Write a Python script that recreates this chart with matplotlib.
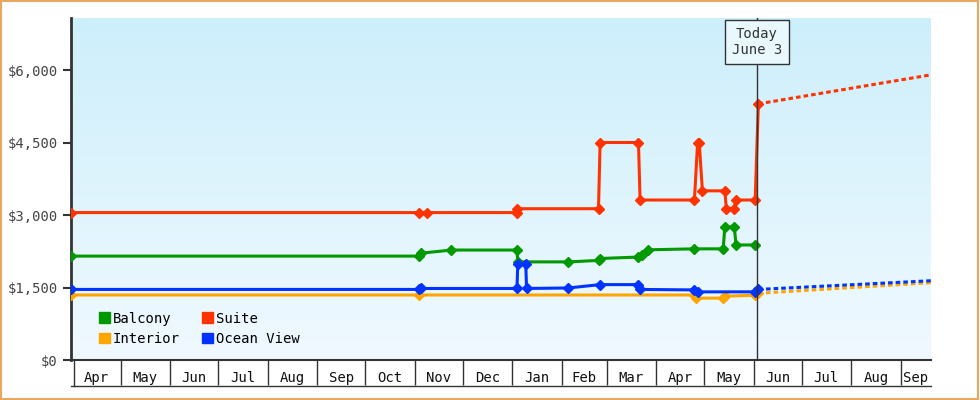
import numpy as np
import matplotlib.pyplot as plt
from matplotlib.patches import Patch
from matplotlib.colors import LinearSegmentedColormap

plt.rcParams['font.family'] = ['DejaVu Sans Mono']

# days since Apr 1 of first year
suite_x = [-1, 217, 222, 278, 278, 329, 330, 354, 355, 389, 391, 392, 394, 408, 409, 414, 415, 427, 429]
suite_y = [3050, 3050, 3050, 3050, 3130, 3130, 4500, 4500, 3310, 3310, 4500, 4500, 3500, 3500, 3130, 3130, 3310, 3310, 5300]
balcony_x = [-1, 217, 218, 237, 278, 278.5, 310, 329, 330, 354, 356, 360, 389, 407, 408, 414, 415, 427]
balcony_y = [2150, 2150, 2210, 2275, 2275, 2030, 2030, 2060, 2100, 2130, 2180, 2280, 2300, 2300, 2750, 2750, 2380, 2380]
ocean_x = [-1, 217, 218, 278, 278.5, 283.5, 284, 310, 330, 354, 355, 389, 391, 427, 429]
ocean_y = [1460, 1460, 1480, 1480, 1980, 1980, 1480, 1490, 1560, 1560, 1460, 1450, 1410, 1410, 1460]
interior_x = [-1, 217, 389, 390, 407, 408, 427, 429]
interior_y = [1345, 1345, 1345, 1280, 1280, 1320, 1340, 1380]
# forecasts from today to end of axis
fc_x = [429, 537]
suite_fc = [5300, 5900]
ocean_fc = [1460, 1640]
interior_fc = [1380, 1600]

months = ['Apr', 'May', 'Jun', 'Jul', 'Aug', 'Sep', 'Oct', 'Nov', 'Dec', 'Jan',
          'Feb', 'Mar', 'Apr', 'May', 'Jun', 'Jul', 'Aug', 'Sep']
month_starts = [0, 30, 61, 91, 122, 153, 183, 214, 244, 275, 306, 334, 365, 395, 426, 456, 487, 518]
today_x = 428
xmin, xmax = -1, 537

fig = plt.figure(figsize=(9.8, 4), dpi=100)
ax = fig.add_axes([71/980, 40/400, 860/980, 342/400])
ax.set_xlim(xmin, xmax)
ax.set_ylim(0, 7076)

cmap = LinearSegmentedColormap.from_list('bg', ['#f0f9ff', '#cdeffb'])
ax.imshow(np.linspace(0, 1, 100).reshape(-1, 1), cmap=cmap, origin='lower',
          extent=[xmin, xmax, 0, 7076], aspect='auto', zorder=0)

series = [
    (balcony_x, balcony_y, '#009900', None),
    (interior_x, interior_y, '#ffa500', interior_fc),
    (ocean_x, ocean_y, '#0033ff', ocean_fc),
    (suite_x, suite_y, '#ff3300', suite_fc),
]
for xs, ys, c, fc in series:
    ax.plot(xs, ys, color=c, lw=2.2, marker='D', ms=5, zorder=3)
    if fc:
        ax.plot(fc_x, fc, color=c, lw=2.2, ls=(0, (1.5, 1)), zorder=3)

ax.axvline(today_x, color='#333333', lw=1, zorder=4)
ax.text(today_x, 6580, 'Today\nJune 3', ha='center', va='center', fontsize=10,
        color='#333333', zorder=5,
        bbox=dict(boxstyle='square,pad=0.5', fc='#e8f8fd', ec='#333333', lw=1))

ax.set_yticks([0, 1500, 3000, 4500, 6000])
ax.set_yticklabels(['$0', '$1,500', '$3,000', '$4,500', '$6,000'], color='#444444', fontsize=10)
ax.tick_params(axis='y', length=6, width=1.5, color='#333333')

ax.set_xticks(month_starts[1:])
ax.set_xticklabels([])
ax.set_xticks([(a + b) / 2 for a, b in zip(month_starts, month_starts[1:] + [537])], minor=True)
ax.set_xticklabels(months, minor=True, fontsize=10, color='#111111')
ax.tick_params(axis='x', which='major', length=18, width=1, color='#333333')
ax.tick_params(axis='x', which='minor', length=0, pad=8)

for s in ['top', 'right']:
    ax.spines[s].set_visible(False)
ax.spines['left'].set_linewidth(2)
ax.spines['left'].set_color('#333333')
ax.spines['bottom'].set_color('#333333')
ax.spines['bottom'].set_linewidth(1.5)
fig.add_artist(plt.Line2D([71/980, 931/980], [14/400, 14/400], color='#333333', lw=1))
fig.add_artist(plt.Line2D([74/980, 74/980], [14/400, 40/400], color='#333333', lw=1))

handles = [Patch(color='#009900', label='Balcony'), Patch(color='#ffa500', label='Interior'),
           Patch(color='#ff3300', label='Suite'), Patch(color='#0033ff', label='Ocean View')]
ax.legend(handles=handles, ncol=2, loc='lower left', bbox_to_anchor=(0.018, 0.005),
          frameon=False, handlelength=0.8, handleheight=0.8, handletextpad=0.2,
          columnspacing=1.6, labelspacing=0.45, fontsize=10)

fig.patches.append(plt.Rectangle((0.001, 0.002), 0.997, 0.995, transform=fig.transFigure,
                                 fill=False, ec='#e8a860', lw=1.5))
fig.savefig('out.png', dpi=100)
